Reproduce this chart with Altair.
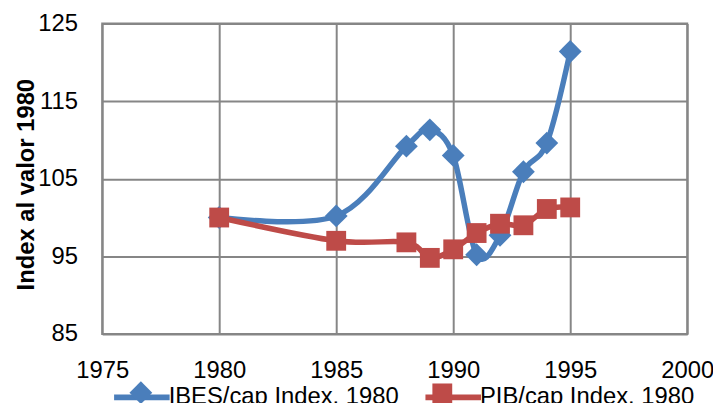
import altair as alt
import pandas as pd

years = [1980, 1985, 1988, 1989, 1990, 1991, 1992, 1993, 1994, 1995]
ibes = [100.0, 100.2, 109.2, 111.3, 108.0, 95.2, 97.7, 105.9, 109.6, 121.4]
pib = [100.0, 97.0, 96.8, 94.8, 95.9, 98.0, 99.2, 99.0, 101.1, 101.3]
series = ["IBES/cap Index. 1980", "PIB/cap Index. 1980"]
colors = ["#4A7EBB", "#BE4B48"]
x_ticks = [1975, 1980, 1985, 1990, 1995, 2000]
y_ticks = [85, 95, 105, 115, 125]

# marker legend keys get a zero-width suffix so Vega-Lite keeps the two legends apart
markers = [s + "\u200b" for s in series]

rows = []
for y, a, b in zip(years, ibes, pib):
    rows.append({"year": y, "value": a, "series": series[0], "marker": markers[0]})
    rows.append({"year": y, "value": b, "series": series[1], "marker": markers[1]})
df = pd.DataFrame(rows)

FONT = "Liberation Sans"
DIAMOND = "M0,-1.15L1.15,0L0,1.15L-1.15,0Z"

x_enc = alt.X("year:Q", scale=alt.Scale(domain=[1975, 2000], nice=False, zero=False),
              axis=alt.Axis(values=x_ticks, format="d", title=None, ticks=False,
                            labelPadding=25, labelFontSize=24, labelFont=FONT,
                            labelColor="#000000", gridColor="#868686", gridWidth=2,
                            domain=False, labelFlush=False))
y_enc = alt.Y("value:Q", scale=alt.Scale(domain=[85, 125], nice=False, zero=False),
              axis=alt.Axis(values=y_ticks, title="Index al valor 1980", ticks=False,
                            labelPadding=25, labelFontSize=24, labelFont=FONT,
                            labelColor="#000000", gridColor="#868686", gridWidth=2,
                            domain=False, titleFont=FONT, titleFontSize=24,
                            titleFontWeight="bold", titleColor="#000000",
                            titleX=-64, titleY=162))

line_legend = alt.Legend(
    title=None, orient="none", legendX=9, legendY=346,
    direction="horizontal", columns=2, columnPadding=14,
    labelFont=FONT, labelFontSize=24, labelColor="#000000", labelLimit=0,
    labelOffset=alt.ExprRef(expr="-4"), symbolSize=3136, symbolType="stroke", padding=0,
    symbolStrokeWidth=6, symbolOpacity=1, zindex=1)

marker_legend = alt.Legend(
    title=None, orient="none", legendX=27, legendY=360,
    direction="horizontal", columns=2, columnPadding=32,
    labelFont=FONT, labelFontSize=24, labelColor="transparent", labelLimit=0,
    labelOffset=14, padding=0, symbolOpacity=1, symbolSize=400, zindex=2)

base = alt.Chart(df)
lines = base.mark_line(strokeWidth=5.5, interpolate="cardinal").encode(
    x=x_enc, y=y_enc,
    color=alt.Color("series:N", scale=alt.Scale(domain=series, range=colors), legend=line_legend))
points = base.mark_point(filled=True, opacity=1, size=400).encode(
    x=x_enc, y=y_enc,
    fill=alt.Fill("marker:N", scale=alt.Scale(domain=markers, range=colors), legend=marker_legend),
    shape=alt.Shape("marker:N", scale=alt.Scale(domain=markers, range=[DIAMOND, "square"]),
                    legend=marker_legend))

layers = []
for s in series:
    layers.append(lines.transform_filter(alt.datum.series == s))
    layers.append(points.transform_filter(alt.datum.series == s))

chart = alt.layer(*layers).properties(
    width=590, height=313,
    autosize=alt.AutoSizeParams(type="none"),
    padding={"left": 95, "top": 14, "right": 26, "bottom": 68},
    background="#ffffff",
).configure_view(stroke="#868686", strokeWidth=2)

chart.save("out.html", embed_options={"renderer": "svg", "actions": False})
